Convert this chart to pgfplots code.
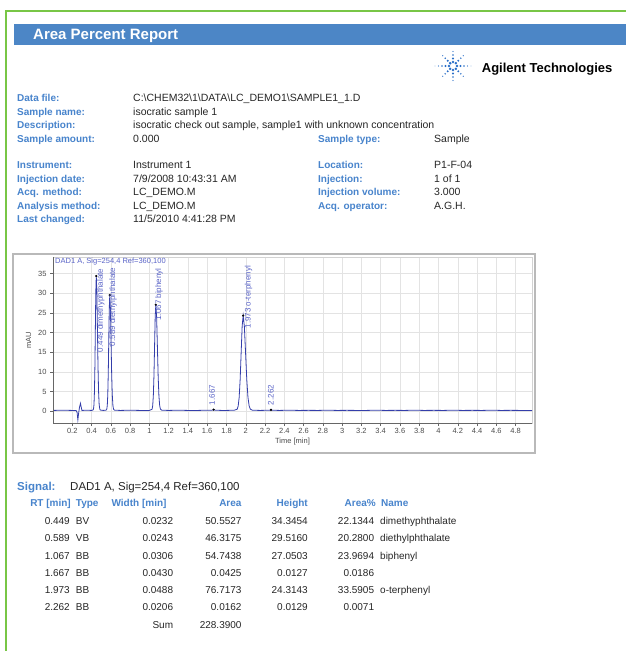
\documentclass[border=0pt]{standalone}
\usepackage{fontspec}
\setmainfont{Liberation Sans}
\usepackage{pgfplots}
\pgfplotsset{compat=1.18}
\definecolor{lblue}{RGB}{72,132,204}
\definecolor{barblue}{RGB}{76,134,198}
\definecolor{curve}{RGB}{52,62,170}
\definecolor{pklbl}{RGB}{90,100,200}
\definecolor{gframe}{RGB}{120,198,70}
\definecolor{logoblue}{RGB}{40,110,200}
\newcommand{\trow}[8]{%
 \node[tv, anchor=base east] at (70,-#1) {#2};
 \node[tv] at (75.7,-#1) {#3};
 \node[tv, anchor=base east] at (173.3,-#1) {#4};
 \node[tv, anchor=base east] at (241.7,-#1) {#5};
 \node[tv, anchor=base east] at (308,-#1) {#6};
 \node[tv, anchor=base east] at (374.3,-#1) {#7};
 \node[tv] at (380,-#1) {#8};}
\begin{document}
\begin{tikzpicture}[x=1pt,y=1pt,
  lab/.style={font=\fontsize{10}{12}\selectfont\bfseries, text=lblue, anchor=base west, inner sep=0},
  val/.style={font=\fontsize{10.5}{12}\selectfont, text=black!85, anchor=base west, inner sep=0},
  th/.style={font=\fontsize{10}{12}\selectfont\bfseries, text=lblue, anchor=base west, inner sep=0},
  tv/.style={font=\fontsize{10}{12}\selectfont, text=black!85, anchor=base west, inner sep=0},
  pk/.style={font=\fontsize{8}{9}\selectfont, text=pklbl, rotate=90, anchor=west, inner sep=0}]
\path[use as bounding box, fill=white] (0,0) rectangle (626,-651);
% frame
\draw[gframe, line width=1.3pt] (6,-651) -- (6,-11) -- (626,-11);
% title bar
\fill[barblue] (14,-24) rectangle (626,-45);
\node[font=\fontsize{15}{18}\selectfont\bfseries, text=white, anchor=base west, inner sep=0] at (33,-39.5) {Area Percent Report};
% logo
\begin{scope}[shift={(453,-66)}]
\foreach \a in {0,45,...,315}{
  \foreach \r/\s in {4/1.4,7.5/1.1,11/0.8,14.5/0.55}{
    \fill[logoblue] (\a:\r) circle (\s);}}
\fill[logoblue] (0:18) circle (0.45); \fill[logoblue] (180:18) circle (0.45);
\end{scope}
\node[font=\fontsize{13}{15}\selectfont\bfseries, anchor=base west, inner sep=0] at (481.7,-72.4) {Agilent Technologies};
% info
\node[lab] at (17,-101.6) {Data file:};
\node[val] at (133,-101.6) {C:\textbackslash CHEM32\textbackslash 1\textbackslash DATA\textbackslash LC\_DEMO1\textbackslash SAMPLE1\_1.D};
\node[lab] at (17,-115) {Sample name:};
\node[val] at (133,-115) {isocratic sample 1};
\node[lab] at (17,-128.6) {Description:};
\node[val] at (133,-128.6) {isocratic check out sample, sample1 with unknown concentration};
\node[lab] at (17,-142.6) {Sample amount:};
\node[val] at (133,-142.6) {0.000};
\node[lab] at (318,-142.6) {Sample type:};
\node[val] at (434,-142.6) {Sample};
\node[lab] at (17,-168.6) {Instrument:};
\node[val] at (133,-168.6) {Instrument 1};
\node[lab] at (318,-168.6) {Location:};
\node[val] at (434,-168.6) {P1-F-04};
\node[lab] at (17,-182.6) {Injection date:};
\node[val] at (133,-182.6) {7/9/2008 10:43:31 AM};
\node[lab] at (318,-182.6) {Injection:};
\node[val] at (434,-182.6) {1 of 1};
\node[lab] at (17,-195.6) {Acq. method:};
\node[val] at (133,-195.6) {LC\_DEMO.M};
\node[lab] at (318,-195.6) {Injection volume:};
\node[val] at (434,-195.6) {3.000};
\node[lab] at (17,-209) {Analysis method:};
\node[val] at (133,-209) {LC\_DEMO.M};
\node[lab] at (318,-209) {Acq. operator:};
\node[val] at (434,-209) {A.G.H.};
\node[lab] at (17,-222.6) {Last changed:};
\node[val] at (133,-222.6) {11/5/2010 4:41:28 PM};
% chart frame
\draw[gray!55, line width=1.5pt] (13,-254) rectangle (535,-453);
\begin{axis}[
  at={(53pt,-423pt)}, anchor=south west,
  scale only axis, width=479pt, height=166pt,
  xmin=0, xmax=4.97, ymin=-3, ymax=39.2,
  xtick={0.2,0.4,0.6,0.8,1,1.2,1.4,1.6,1.8,2,2.2,2.4,2.6,2.8,3,3.2,3.4,3.6,3.8,4,4.2,4.4,4.6,4.8},
  ytick={0,5,10,15,20,25,30,35},
  grid=major, major grid style={gray!22, line width=0.4pt},
  tick align=outside, tick pos=left, major tick length=3pt,
  tick style={black!60, line width=0.5pt},
  axis line style={gray!35},
  /pgf/number format/assume math mode=true,
  ticklabel style={font=\fontsize{7.5}{9}\selectfont, text=black!70},
  xticklabel style={yshift=1pt},
  xlabel={Time [min]}, ylabel={mAU},
  label style={font=\fontsize{7.5}{9}\selectfont, text=black!70},
  xlabel style={yshift=3pt},
  clip mode=individual,
]
\addplot[curve, line width=0.8pt] coordinates {
(0,0.2) (0.1,0.25) (0.2,0.2) (0.24,0.2) (0.25,-0.3) (0.258,-2.2) (0.266,-0.5) (0.275,1.0) (0.285,2.0) (0.293,1.0) (0.3,0.2) (0.35,0.25) (0.4,0.2) (0.415,0.3)
(0.4205,0.6) (0.4253,1.7) (0.430,4.9) (0.4348,11.3) (0.4395,21.0) (0.4443,30.5) (0.449,34.35) (0.455,30.5) (0.461,21.0) (0.467,11.3) (0.473,4.9) (0.479,1.7) (0.485,0.6) (0.49,0.3)
(0.52,0.2) (0.55,0.25)
(0.558,0.5) (0.5633,1.5) (0.5684,4.2) (0.5736,9.8) (0.5787,18.1) (0.5839,26.2) (0.589,29.52) (0.5955,26.2) (0.602,18.1) (0.6085,9.8) (0.615,4.2) (0.6215,1.5) (0.628,0.5) (0.64,0.25)
(0.7,0.2) (0.8,0.25) (0.9,0.2) (1.0,0.2)
(1.028,0.5) (1.0345,1.4) (1.041,3.9) (1.0475,9.0) (1.054,16.6) (1.0605,24.1) (1.067,27.05) (1.075,24.1) (1.083,16.6) (1.091,9.0) (1.099,3.9) (1.107,1.4) (1.115,0.5) (1.13,0.25)
(1.2,0.2) (1.3,0.25) (1.4,0.2) (1.5,0.2) (1.6,0.25) (1.65,0.25) (1.667,0.4) (1.685,0.25) (1.75,0.2) (1.8,0.2) (1.88,0.25)
(1.911,0.5) (1.9213,1.3) (1.9316,3.5) (1.942,8.1) (1.9523,14.9) (1.9627,21.6) (1.973,24.31) (1.9855,21.6) (1.998,14.9) (2.0105,8.1) (2.023,3.5) (2.0355,1.3) (2.048,0.5) (2.07,0.25)
(2.15,0.2) (2.25,0.25) (2.262,0.35) (2.275,0.25)
(2.35,0.2) (2.45,0.25) (2.55,0.2) (2.65,0.22) (2.75,0.2) (2.85,0.25) (2.95,0.2) (3.05,0.22) (3.15,0.2) (3.25,0.2) (3.35,0.25) (3.45,0.2) (3.55,0.22) (3.65,0.2) (3.75,0.25) (3.85,0.2) (3.95,0.22) (4.05,0.2) (4.15,0.25) (4.25,0.2) (4.35,0.22) (4.45,0.2) (4.55,0.25) (4.65,0.2) (4.75,0.22) (4.85,0.2) (4.97,0.2)
};
\addplot[only marks, mark=*, mark size=0.9pt, black] coordinates {
(0.449,34.35) (0.589,29.52) (1.067,27.05) (1.667,0.4) (1.973,24.31) (2.262,0.35)};
\node[pk] at (axis cs:0.497,15) {0.449 dimethyphthalate};
\node[pk] at (axis cs:0.622,16.5) {0.589 diethylphthalate};
\node[pk] at (axis cs:1.1,23) {1.067 biphenyl};
\node[pk] at (axis cs:1.65,1.5) {1.667};
\node[pk] at (axis cs:2.03,21) {1.973 o-terphenyl};
\node[pk] at (axis cs:2.26,1.5) {2.262};
\node[font=\fontsize{7.5}{9}\selectfont, text=pklbl, anchor=north west, inner sep=0] at ([xshift=2pt,yshift=-1pt]rel axis cs:0,1) {DAD1 A, Sig=254,4 Ref=360,100};
\draw[black!60, line width=0.6pt] (rel axis cs:0,1) -- (rel axis cs:0,0) -- (rel axis cs:1,0);
\end{axis}
% table
\node[font=\fontsize{11.5}{13}\selectfont\bfseries, text=lblue, anchor=base west, inner sep=0] at (17,-490) {Signal:};
\node[font=\fontsize{11.5}{13}\selectfont, text=black!85, anchor=base west, inner sep=0] at (70,-490) {DAD1 A, Sig=254,4 Ref=360,100};
\node[th, anchor=base east] at (71,-506.9) {RT [min]};
\node[th] at (75.7,-506.9) {Type};
\node[th, anchor=base east] at (166.7,-506.9) {Width [min]};
\node[th, anchor=base east] at (241.7,-506.9) {Area};
\node[th, anchor=base east] at (308,-506.9) {Height};
\node[th, anchor=base east] at (376,-506.9) {Area\%};
\node[th] at (381,-506.9) {Name};
\trow{524.6}{0.449}{BV}{0.0232}{50.5527}{34.3454}{22.1344}{dimethyphthalate}
\trow{541.9}{0.589}{VB}{0.0243}{46.3175}{29.5160}{20.2800}{diethylphthalate}
\trow{559.3}{1.067}{BB}{0.0306}{54.7438}{27.0503}{23.9694}{biphenyl}
\trow{576.3}{1.667}{BB}{0.0430}{0.0425}{0.0127}{0.0186}{}
\trow{593.6}{1.973}{BB}{0.0488}{76.7173}{24.3143}{33.5905}{o-terphenyl}
\trow{610.9}{2.262}{BB}{0.0206}{0.0162}{0.0129}{0.0071}{}
\node[tv, anchor=base east] at (173.3,-628.6) {Sum};
\node[tv, anchor=base east] at (241.7,-628.6) {228.3900};
\end{tikzpicture}
\end{document}
